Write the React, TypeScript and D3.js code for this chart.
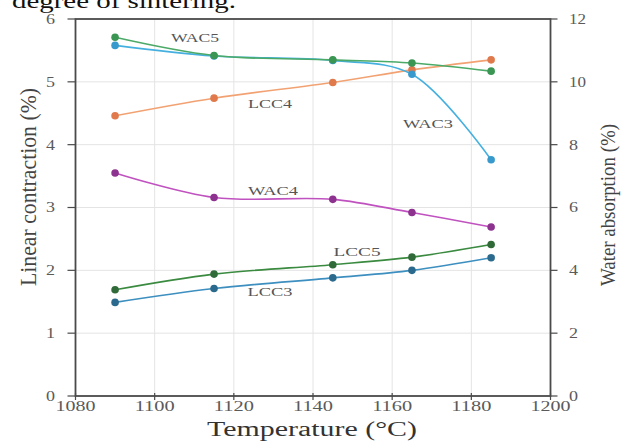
import React from "react";
import * as d3 from "d3";

const temperatures = [1090, 1115, 1145, 1165, 1185];
const lcc3 = [1.49, 1.71, 1.88, 2.0, 2.2];
const lcc4 = [4.46, 4.74, 4.99, 5.19, 5.35];
const lcc5 = [1.69, 1.94, 2.09, 2.21, 2.41];
const wac3 = [11.16, 10.82, 10.68, 10.24, 7.52];
const wac4 = [7.1, 6.32, 6.26, 5.84, 5.38];
const wac5 = [11.42, 10.84, 10.7, 10.6, 10.34];

const xTicks = [1080, 1100, 1120, 1140, 1160, 1180, 1200];
const yLeftTicks = [0, 1, 2, 3, 4, 5, 6];
const yRightTicks = [0, 2, 4, 6, 8, 10, 12];

const W = 628;
const H = 443;
const M = { left: 75.5, right: 550.5, top: 19, bottom: 396 };

const x = d3.scaleLinear().domain([1080, 1200]).range([M.left, M.right]);
const yL = d3.scaleLinear().domain([0, 6]).range([M.bottom, M.top]);
const yR = d3.scaleLinear().domain([0, 12]).range([M.bottom, M.top]);

type Series = {
  name: string;
  values: number[];
  axis: "L" | "R";
  line: string;
  marker: string;
  label: { x: number; y: number; len: number };
};

const series: Series[] = [
  { name: "LCC3", values: lcc3, axis: "L", line: "#3d8fc0", marker: "#2b6a8c", label: { x: 270, y: 296, len: 45 } },
  { name: "LCC5", values: lcc5, axis: "L", line: "#3a8a40", marker: "#2f6a38", label: { x: 357, y: 256, len: 47 } },
  { name: "WAC4", values: wac4, axis: "R", line: "#c052c0", marker: "#8e3290", label: { x: 273, y: 195, len: 50 } },
  { name: "LCC4", values: lcc4, axis: "L", line: "#f2a272", marker: "#e07a4c", label: { x: 270, y: 108, len: 44 } },
  { name: "WAC3", values: wac3, axis: "R", line: "#45b0e0", marker: "#3799cc", label: { x: 428, y: 128, len: 50 } },
  { name: "WAC5", values: wac5, axis: "R", line: "#4caa68", marker: "#3a9652", label: { x: 195, y: 42, len: 48 } },
];

const serif = "'Liberation Serif', 'DejaVu Serif', serif";

export default function App() {
  return (
    <svg
      width={W}
      height={H}
      style={{ position: "absolute", left: 0, top: 0, background: "#fff" }}
      fontFamily={serif}
    >
      <rect x={0} y={0} width={W} height={H} fill="#fff" />
      <text x={12} y={8} fontSize={20} fill="#111" textLength={224} lengthAdjust="spacingAndGlyphs">
        degree of sintering.
      </text>

      {/* grid */}
      {xTicks.slice(1, -1).map((t) => (
        <line key={"gx" + t} x1={x(t)} x2={x(t)} y1={M.top} y2={M.bottom} stroke="#e4e4e4" strokeWidth={1} />
      ))}
      {yLeftTicks.slice(1, -1).map((t) => (
        <line key={"gy" + t} x1={M.left} x2={M.right} y1={yL(t)} y2={yL(t)} stroke="#e4e4e4" strokeWidth={1} />
      ))}

      {/* lines */}
      {series.map((s) => {
        const ys = s.axis === "L" ? yL : yR;
        const gen = d3
          .line<number>()
          .x((_, i) => x(temperatures[i]))
          .y((v) => ys(v))
          .curve(d3.curveCatmullRom.alpha(0.5));
        return (
          <g key={s.name}>
            <path d={gen(s.values) || ""} fill="none" stroke={s.line} strokeWidth={1.6} />
            {s.values.map((v, i) => (
              <circle key={i} cx={x(temperatures[i])} cy={ys(v)} r={3.8} fill={s.marker} />
            ))}
          </g>
        );
      })}

      {/* series labels */}
      {series.map((s) => (
        <text
          key={"lab" + s.name}
          x={s.label.x}
          y={s.label.y}
          textAnchor="middle"
          fontSize={12}
          fill="#555"
          textLength={s.label.len}
          lengthAdjust="spacingAndGlyphs"
        >
          {s.name}
        </text>
      ))}

      {/* frame */}
      <rect
        x={M.left}
        y={M.top}
        width={M.right - M.left}
        height={M.bottom - M.top}
        fill="none"
        stroke="#4a4a4a"
        strokeWidth={1.8}
      />

      {/* x axis ticks */}
      {xTicks.map((t) => (
        <g key={"xt" + t}>
          <line x1={x(t)} x2={x(t)} y1={M.bottom - 3} y2={M.bottom + 4} stroke="#4a4a4a" strokeWidth={1.2} />
          <text
            x={x(t)}
            y={411}
            textAnchor="middle"
            fontSize={14}
            fill="#5a5a5a"
            textLength={40}
            lengthAdjust="spacingAndGlyphs"
          >
            {t}
          </text>
        </g>
      ))}

      {/* left y ticks */}
      {yLeftTicks.map((t) => (
        <g key={"yl" + t}>
          <line x1={M.left - 8} x2={M.left} y1={yL(t)} y2={yL(t)} stroke="#4a4a4a" strokeWidth={1.2} />
          <text
            x={55}
            y={yL(t)}
            dy="0.35em"
            textAnchor="end"
            fontSize={14}
            fill="#5a5a5a"
            textLength={9}
            lengthAdjust="spacingAndGlyphs"
          >
            {t}
          </text>
        </g>
      ))}

      {/* right y ticks */}
      {yRightTicks.map((t) => (
        <g key={"yr" + t}>
          <line x1={M.right} x2={M.right + 7} y1={yR(t)} y2={yR(t)} stroke="#4a4a4a" strokeWidth={1.2} />
          <text
            x={569}
            y={yR(t)}
            dy="0.35em"
            textAnchor="start"
            fontSize={14}
            fill="#5a5a5a"
            textLength={t >= 10 ? 17 : 9}
            lengthAdjust="spacingAndGlyphs"
          >
            {t}
          </text>
        </g>
      ))}

      {/* axis titles */}
      <text
        x={312}
        y={436}
        textAnchor="middle"
        fontSize={20}
        fill="#333"
        textLength={210}
        lengthAdjust="spacingAndGlyphs"
      >
        Temperature (°C)
      </text>
      <text
        transform={`translate(36,187) rotate(-90)`}
        textAnchor="middle"
        fontSize={24}
        fill="#444"
        textLength={198}
        lengthAdjust="spacingAndGlyphs"
      >
        Linear contraction (%)
      </text>
      <text
        transform={`translate(615,205) rotate(-90)`}
        textAnchor="middle"
        fontSize={22}
        fill="#444"
        textLength={162}
        lengthAdjust="spacingAndGlyphs"
      >
        Water absorption (%)
      </text>
    </svg>
  );
}
